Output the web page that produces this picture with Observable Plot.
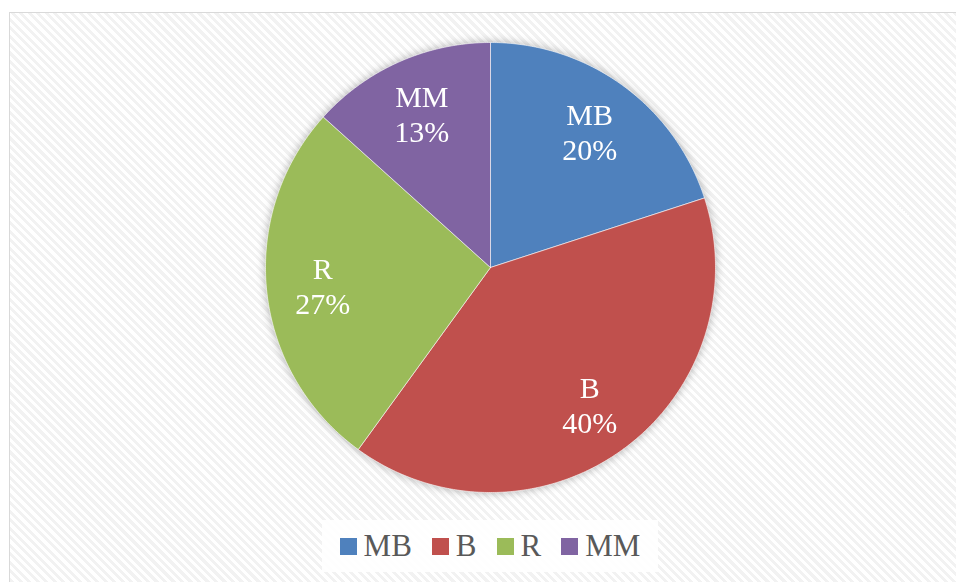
<!DOCTYPE html>
<html>
<head>
<meta charset="utf-8">
<script src="https://cdn.jsdelivr.net/npm/d3@7"></script>
<script src="https://cdn.jsdelivr.net/npm/@observablehq/plot@0.6"></script>
<style>
  html, body { margin: 0; padding: 0; background: #fff; }
  #wrap { position: relative; width: 956px; height: 582px; overflow: hidden; background: #fff; }
  #frame {
    position: absolute; left: 9px; top: 12px; width: 970px; height: 600px;
    border: 1px solid #d9d9d9; box-sizing: border-box;
    background: repeating-linear-gradient(45deg, #ffffff 0px, #ffffff 3px, #f2f2f2 3px, #f2f2f2 6px);
  }
  #chart { position: absolute; left: 0; top: 0; }
  #chart svg { filter: drop-shadow(0 0 4px rgba(0,0,0,0.3)); }
  #legend {
    position: absolute; left: 322px; top: 520px; width: 336px; height: 52px;
    background: rgba(255,255,255,0.9);
    display: flex; align-items: center; justify-content: center;
    font-family: "Liberation Serif", "Times New Roman", serif; font-size: 31px; color: #595959;
  }
  #legend .item { display: flex; align-items: center; margin: 0 10px; }
  #legend .sw { width: 17px; height: 17px; margin-right: 7px; margin-top: 1px; }
</style>
</head>
<body>
<div id="wrap">
  <div id="frame"></div>
  <div id="chart"></div>
  <div id="legend"></div>
</div>
<script>
const categories = ["MB", "B", "R", "MM"];
const values = [3, 6, 4, 2];
const colors = ["#4F81BD", "#C0504D", "#9BBB59", "#8064A2"];

const total = d3.sum(values);
const arcs = d3.pie().sort(null).value(d => d.value)(categories.map((c, i) => ({cat: c, value: values[i]})));

// polygon outline points for each slice (unit radius, y up)
const pts = [];
arcs.forEach(a => {
  const cat = a.data.cat;
  pts.push({cat, x: 0, y: 0});
  const n = Math.max(2, Math.ceil((a.endAngle - a.startAngle) / (Math.PI / 360)));
  for (let k = 0; k <= n; k++) {
    const t = a.startAngle + (a.endAngle - a.startAngle) * k / n;
    pts.push({cat, x: Math.sin(t), y: Math.cos(t)});
  }
  pts.push({cat, x: 0, y: 0});
});

const labelR = 0.75;
const labels = arcs.map(a => {
  const m = (a.startAngle + a.endAngle) / 2;
  return {cat: a.data.cat, x: labelR * Math.sin(m), y: labelR * Math.cos(m),
          text: a.data.cat + "\n" + Math.round(a.data.value / total * 100) + "%"};
});

const chart = Plot.plot({
  width: 956, height: 582,
  marginLeft: 265, marginRight: 241, marginTop: 42, marginBottom: 90,
  x: {domain: [-1, 1], axis: null},
  y: {domain: [-1, 1], axis: null},
  color: {domain: categories, range: colors},
  style: {background: "transparent", overflow: "visible"},
  marks: [
    Plot.line(pts, {x: "x", y: "y", z: "cat", fill: "cat", stroke: "#ffffff", strokeWidth: 0.6, curve: "linear"}),
    Plot.text(labels, {x: "x", y: "y", text: "text", fill: "#ffffff", fontSize: 30,
      fontFamily: "Liberation Serif, Times New Roman, serif", lineHeight: 1.18, lineAnchor: "middle"})
  ]
});
document.getElementById("chart").appendChild(chart);

const legend = document.getElementById("legend");
categories.forEach((c, i) => {
  const it = document.createElement("div");
  it.className = "item";
  const sw = document.createElement("span");
  sw.className = "sw";
  sw.style.background = colors[i];
  const tx = document.createElement("span");
  tx.textContent = c;
  it.appendChild(sw); it.appendChild(tx);
  legend.appendChild(it);
});
</script>
</body>
</html>
